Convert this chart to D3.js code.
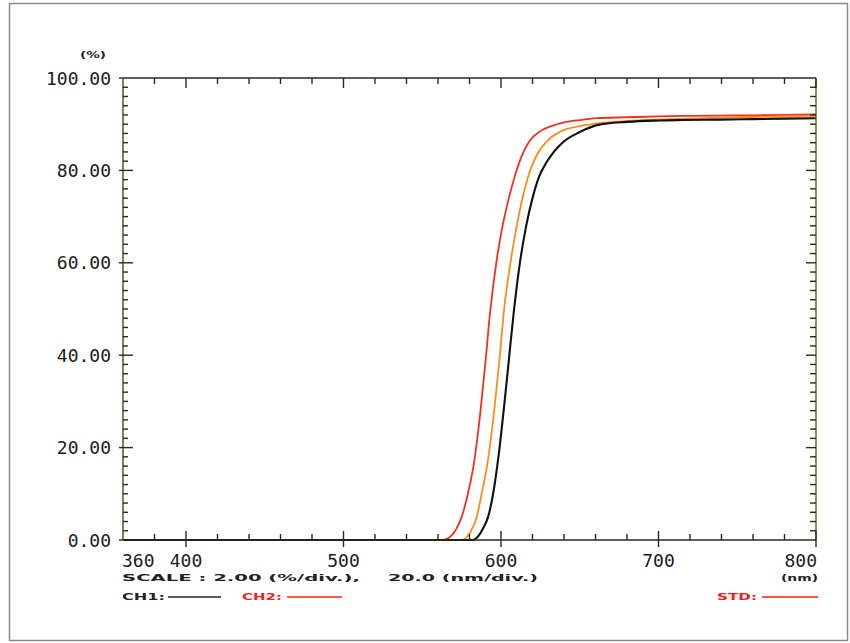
<!DOCTYPE html>
<html><head><meta charset="utf-8">
<script src="https://cdn.jsdelivr.net/npm/d3@7"></script>
<style>body{margin:0;background:#fff}svg{display:block}</style>
</head><body>
<svg id="c" width="850" height="643"></svg>
<script>
// ---- data ----
const yTicks = [0, 20, 40, 60, 80, 100];
const xMajor = [400, 500, 600, 700, 800];
const xLabels = [360, 400, 500, 600, 700, 800];
const stdNm  = [360,550,563,567,571,575,579,583,587,590,593,597,601,605,609,613,618,625,632,639,650,661,680,700,720,750,780,800];
const stdVal = [0,0,0,0.5,2,5,10,17,28,38,49,60,68,74,79,83,86.3,88.5,89.6,90.3,90.9,91.3,91.5,91.7,91.8,91.9,92.0,92.1];
const ch2Nm  = [360,575,578,581,584.6,587.7,591.6,596,599,602,606,610,614,618,623,630,639,650,661,680,700,720,750,780,800];
const ch2Val = [0,0,0.5,2,5,10,17,29,39,50,60,68,74.5,79.5,83.5,86.6,88.6,89.6,90.2,90.7,91,91.2,91.5,91.7,91.8];
const ch1Nm  = [360,582,584.6,588.6,591.8,595,598,602,605,608,612,616,620,624,629,634,639,650,661,680,700,715,740,760,780,800];
const ch1Val = [0,0,0.5,2.5,5,10,17,29,39,49,60,68,74,78.5,81.8,84.2,86,88.3,89.8,90.5,90.8,90.9,91,91.1,91.2,91.3];

const svg = d3.select('#c');
const x = d3.scaleLinear().domain([360, 800]).range([123, 816]);
const y = d3.scaleLinear().domain([0, 100]).range([540, 78]);
const axisCol = '#2a2a18';

// outer frame
svg.append('rect').attr('x', 9.5).attr('y', 3.5).attr('width', 838).attr('height', 637)
  .attr('fill', 'none').attr('stroke', '#8a8a8a').attr('stroke-width', 1.5);

// curves
const line = d3.line().x(d => x(d[0])).y(d => y(d[1])).curve(d3.curveMonotoneX);
const series = [
  {nm: stdNm, v: stdVal, col: '#f2301c', w: 1.8},
  {nm: ch2Nm, v: ch2Val, col: '#ff8c1a', w: 1.8},
  {nm: ch1Nm, v: ch1Val, col: '#111', w: 2.1}
];
series.forEach(s => {
  svg.append('path').datum(s.nm.map((n, i) => [n, s.v[i]]))
    .attr('d', line).attr('fill', 'none').attr('stroke', s.col).attr('stroke-width', s.w);
});

// plot frame
const g = svg.append('g').attr('stroke', axisCol).attr('stroke-width', 1.4);
g.append('line').attr('x1', x(360)).attr('x2', x(800)).attr('y1', y(100)).attr('y2', y(100));
g.append('line').attr('x1', x(360)).attr('x2', x(800)).attr('y1', y(0)).attr('y2', y(0));
g.append('line').attr('x1', x(360)).attr('x2', x(360)).attr('y1', y(0)).attr('y2', y(100)).attr('stroke', '#4a4418');
g.append('line').attr('x1', x(800)).attr('x2', x(800)).attr('y1', y(0)).attr('y2', y(100)).attr('stroke', '#6a5a18');

// x ticks
const xMinor = d3.range(380, 800, 20).filter(v => !xMajor.includes(v));
xMinor.forEach(v => {
  g.append('line').attr('x1', x(v)).attr('x2', x(v)).attr('y1', y(0)).attr('y2', y(0) - 6);
  g.append('line').attr('x1', x(v)).attr('x2', x(v)).attr('y1', y(100)).attr('y2', y(100) + 6);
});
xMajor.forEach(v => {
  g.append('line').attr('x1', x(v)).attr('x2', x(v)).attr('y1', y(0) - 9).attr('y2', y(0) + 7);
  g.append('line').attr('x1', x(v)).attr('x2', x(v)).attr('y1', y(100)).attr('y2', y(100) + 10);
});
// y ticks
d3.range(2, 100, 2).forEach(v => {
  const major = v % 20 === 0;
  g.append('line').attr('x1', x(360) - (major ? 4 : 0)).attr('x2', x(360) + (major ? 10 : 5)).attr('y1', y(v)).attr('y2', y(v));
  g.append('line').attr('x1', x(800)).attr('x2', x(800) - (major ? 10 : 6)).attr('y1', y(v)).attr('y2', y(v));
});
g.append('line').attr('x1', x(360) - 4).attr('x2', x(360)).attr('y1', y(0)).attr('y2', y(0));
g.append('line').attr('x1', x(360) - 4).attr('x2', x(360)).attr('y1', y(100)).attr('y2', y(100));

// labels
const mono = '"DejaVu Sans Mono", monospace';
yTicks.forEach(v => {
  svg.append('text').attr('x', 111).attr('y', y(v) + 6.5).attr('text-anchor', 'end')
    .attr('font-family', mono).attr('font-size', 18).attr('fill', '#1a1a1a').text(v.toFixed(2));
});
xLabels.forEach(v => {
  const anchor = v === 360 ? 'start' : (v === 800 ? 'end' : 'middle');
  svg.append('text').attr('x', v === 360 ? x(v) - 1 : (v === 800 ? x(v) + 1 : x(v))).attr('y', 567)
    .attr('text-anchor', anchor).attr('font-family', mono).attr('font-size', 18).attr('fill', '#1a1a1a').text(v);
});

function small(txt, x0, yb, w, col) {
  svg.append('text').attr('x', x0).attr('y', yb).attr('font-family', '"DejaVu Sans", sans-serif')
    .attr('font-weight', 'bold').attr('font-size', 9).attr('fill', col)
    .attr('textLength', w).attr('lengthAdjust', 'spacingAndGlyphs').text(txt);
}
small('(%)', 80, 58, 26, '#222');
small('(nm)', 781, 581, 37, '#222');
small('SCALE : 2.00 (%/div.),', 122, 581, 238, '#222');
small('20.0 (nm/div.)', 388, 581, 150, '#222');
small('CH1:', 122, 600, 43, '#222');
small('CH2:', 242, 600, 40, '#f0201a');
small('STD:', 717, 600, 40, '#f0201a');
const leg = [[168, 221, '#222'], [287, 342, '#f0201a'], [762, 818, '#f0201a']];
leg.forEach(l => svg.append('line').attr('x1', l[0]).attr('x2', l[1]).attr('y1', 597).attr('y2', 597)
  .attr('stroke', l[2]).attr('stroke-width', 1.3));
</script>
</body></html>
